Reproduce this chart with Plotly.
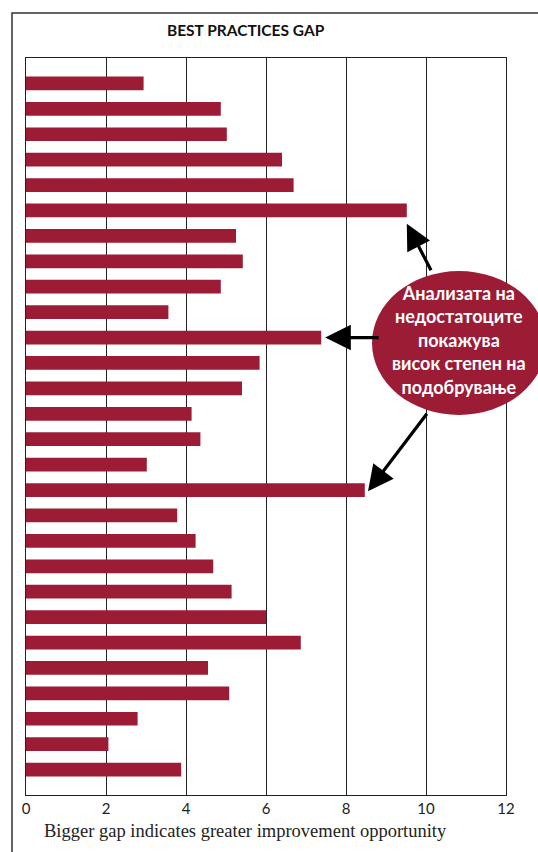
import plotly.graph_objects as go

# Data (bars from top to bottom)
gap_values = [2.94, 4.87, 5.02, 6.40, 6.69, 9.52, 5.25, 5.42, 4.87, 3.56,
              7.38, 5.84, 5.40, 4.14, 4.36, 3.02, 8.47, 3.78, 4.24, 4.68,
              5.14, 6.00, 6.87, 4.55, 5.08, 2.79, 2.06, 3.88]
row_index = list(range(len(gap_values)))
x_ticks = [0, 2, 4, 6, 8, 10, 12]
title_text = "BEST PRACTICES GAP"
caption_text = "Bigger gap indicates greater improvement opportunity"
callout_lines = ["Анализата на", "недостатоците", "покажува", "висок степен на", "подобрување"]
highlight_rows = [5, 10, 16]

BAR = "#9C1C35"
W, H = 538, 852
L, R, T, B = 26, 32, 58, 57
pw, ph = W - L - R, H - T - B

def px(x):
    return (x - L) / pw

def py(y):
    return (H - B - y) / ph

fig = go.Figure()
fig.add_trace(go.Bar(
    x=gap_values, y=row_index, orientation="h",
    marker=dict(color=BAR, line=dict(width=0)),
    width=0.54, hoverinfo="x",
))

fig.update_layout(
    width=W, height=H,
    margin=dict(l=L, r=R, t=T, b=B),
    paper_bgcolor="white", plot_bgcolor="white",
    showlegend=False,
    xaxis=dict(
        range=[0, 12], tickvals=x_ticks, ticktext=[str(v) for v in x_ticks],
        showgrid=True, gridcolor="#222222", gridwidth=1.3,
        showline=True, linecolor="#222222", linewidth=1.3, mirror=True,
        ticks="", ticklen=0,
        tickfont=dict(family="Lato", size=15, color="#222222"),
        zeroline=False, fixedrange=True,
    ),
    yaxis=dict(
        range=[len(gap_values), -1], showticklabels=False, showgrid=False,
        showline=True, linecolor="#222222", linewidth=1.3, mirror=True,
        zeroline=False, ticks="", fixedrange=True,
    ),
)

# outer frame
fig.add_shape(type="rect", xref="paper", yref="paper",
              x0=px(12), x1=px(545), y0=py(860), y1=py(13),
              line=dict(color="#333333", width=1.5), fillcolor="rgba(0,0,0,0)", layer="below")

# callout ellipse
fig.add_shape(type="circle", xref="paper", yref="paper",
              x0=px(372), x1=px(546), y0=py(415), y1=py(271),
              line=dict(width=0), fillcolor=BAR, layer="above")

# title
fig.add_annotation(text="<b>" + title_text + "</b>", xref="paper", yref="paper",
                   x=px(246), y=py(30), xanchor="center", yanchor="middle", showarrow=False,
                   font=dict(family="Lato", size=15.5, color="#111111"))

# caption
fig.add_annotation(text=caption_text, xref="paper", yref="paper",
                   x=px(42), y=py(831), xanchor="left", yanchor="middle", showarrow=False,
                   font=dict(family="Liberation Serif", size=18.5, color="#222222"))

# callout text
fig.add_annotation(text="<br>".join("<b>" + s + "</b>" for s in callout_lines),
                   xref="paper", yref="paper", x=px(459), y=py(340),
                   xanchor="center", yanchor="middle",
                   showarrow=False, align="center",
                   font=dict(family="Lato", size=18, color="white"))

# arrows
arrow_specs = [
    (highlight_rows[0], 0.0, 0.52, 25, 48),
    (highlight_rows[1], 0.1, 0.0, 55, 0),
    (highlight_rows[2], 0.08, 0.05, 60, -79),
]
for row, dx, dy, ax, ay in arrow_specs:
    fig.add_annotation(x=gap_values[row] + dx, y=row + dy, xref="x", yref="y",
                       ax=ax, ay=ay, text="", showarrow=True,
                       arrowhead=2, arrowsize=1.6, arrowwidth=3.2,
                       arrowcolor="black", standoff=0)

fig.write_html("out.html")
